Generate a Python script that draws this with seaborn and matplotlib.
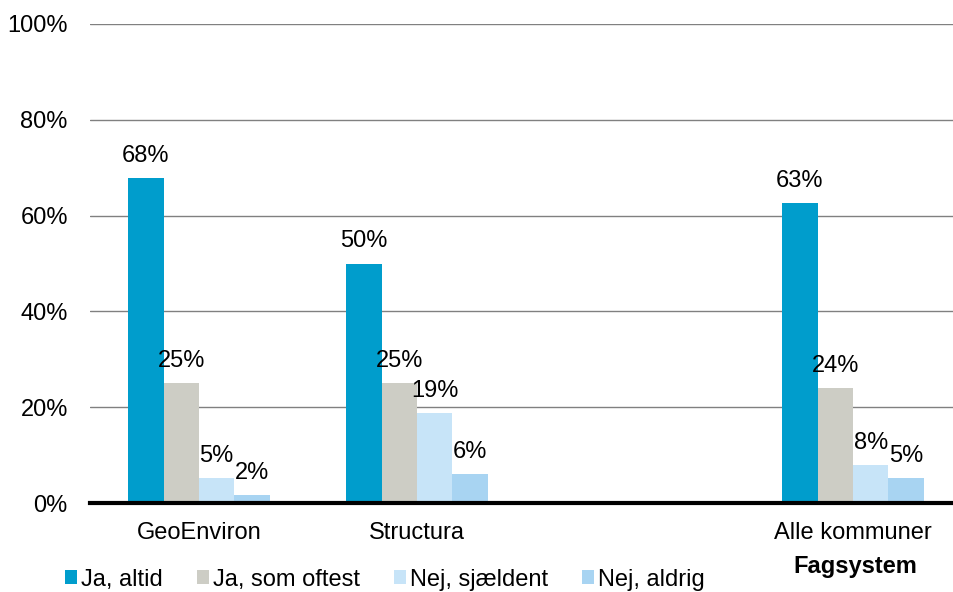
import pandas as pd
import seaborn as sns
import matplotlib.pyplot as plt

# values (percent)
systems = ["GeoEnviron", "Structura", "Alle kommuner"]
slots = ["GeoEnviron", "Structura", " ", "Alle kommuner"]
answers = ["Ja, altid", "Ja, som oftest", "Nej, sjældent", "Nej, aldrig"]
ja_altid = [67.8, 50.0, 62.6]
ja_som_oftest = [25.0, 25.0, 24.0]
nej_sjaeldent = [5.2, 18.8, 7.9]
nej_aldrig = [1.7, 6.1, 5.2]
colors = ["#009DCC", "#CDCDC5", "#C7E4F8", "#A8D4F2"]

rows = []
for ans, vals in zip(answers, [ja_altid, ja_som_oftest, nej_sjaeldent, nej_aldrig]):
    for s, v in zip(systems, vals):
        rows.append({"Fagsystem": s, "Svar": ans, "Andel": v})
df = pd.DataFrame(rows)

sns.set_style("white")
plt.rcParams["font.family"] = ["Liberation Sans", "DejaVu Sans"]
plt.rcParams["text.color"] = "black"
plt.rcParams["xtick.color"] = "black"
plt.rcParams["ytick.color"] = "black"
plt.rcParams["axes.labelcolor"] = "black"

fs = 17
fig = plt.figure(figsize=(9.54, 5.92), dpi=100)
ax = fig.add_axes([90 / 954, 89 / 592, 872 / 954, 479 / 592])

sns.barplot(data=df, x="Fagsystem", y="Andel", hue="Svar", order=slots,
            hue_order=answers, palette=colors, width=0.65, saturation=1,
            linewidth=0, ax=ax)

for c in ax.containers:
    ax.bar_label(c, labels=[f"{round(v)}%" for v in c.datavalues],
                 padding=8, fontsize=fs)

ax.set_ylim(0, 100)
ax.set_xlim(-0.5, 3.5)
ax.set_yticks(range(0, 101, 20))
ax.set_yticklabels([f"{t}%" for t in range(0, 101, 20)], fontsize=fs)
ax.tick_params(axis="x", labelsize=fs, pad=14, length=0)
ax.tick_params(axis="y", pad=16, length=0)
ax.yaxis.grid(True, color="#808080", linewidth=1)
ax.set_axisbelow(True)
for sp in ["top", "right", "left"]:
    ax.spines[sp].set_visible(False)
ax.spines["bottom"].set_color("black")
ax.spines["bottom"].set_linewidth(3)
ax.set_ylabel("")
ax.set_xlabel("Fagsystem", fontsize=fs, fontweight="bold")
ax.xaxis.set_label_coords((855 - 90) / 872, -0.108)

ax.legend(loc="lower left", bbox_to_anchor=(-25 / 872, -0.183), ncol=4,
          frameon=False, fontsize=fs, handlelength=0.52, handleheight=0.52,
          handletextpad=0.15, columnspacing=1.45, borderaxespad=0,
          borderpad=0)

fig.savefig("out.png", dpi=100)
